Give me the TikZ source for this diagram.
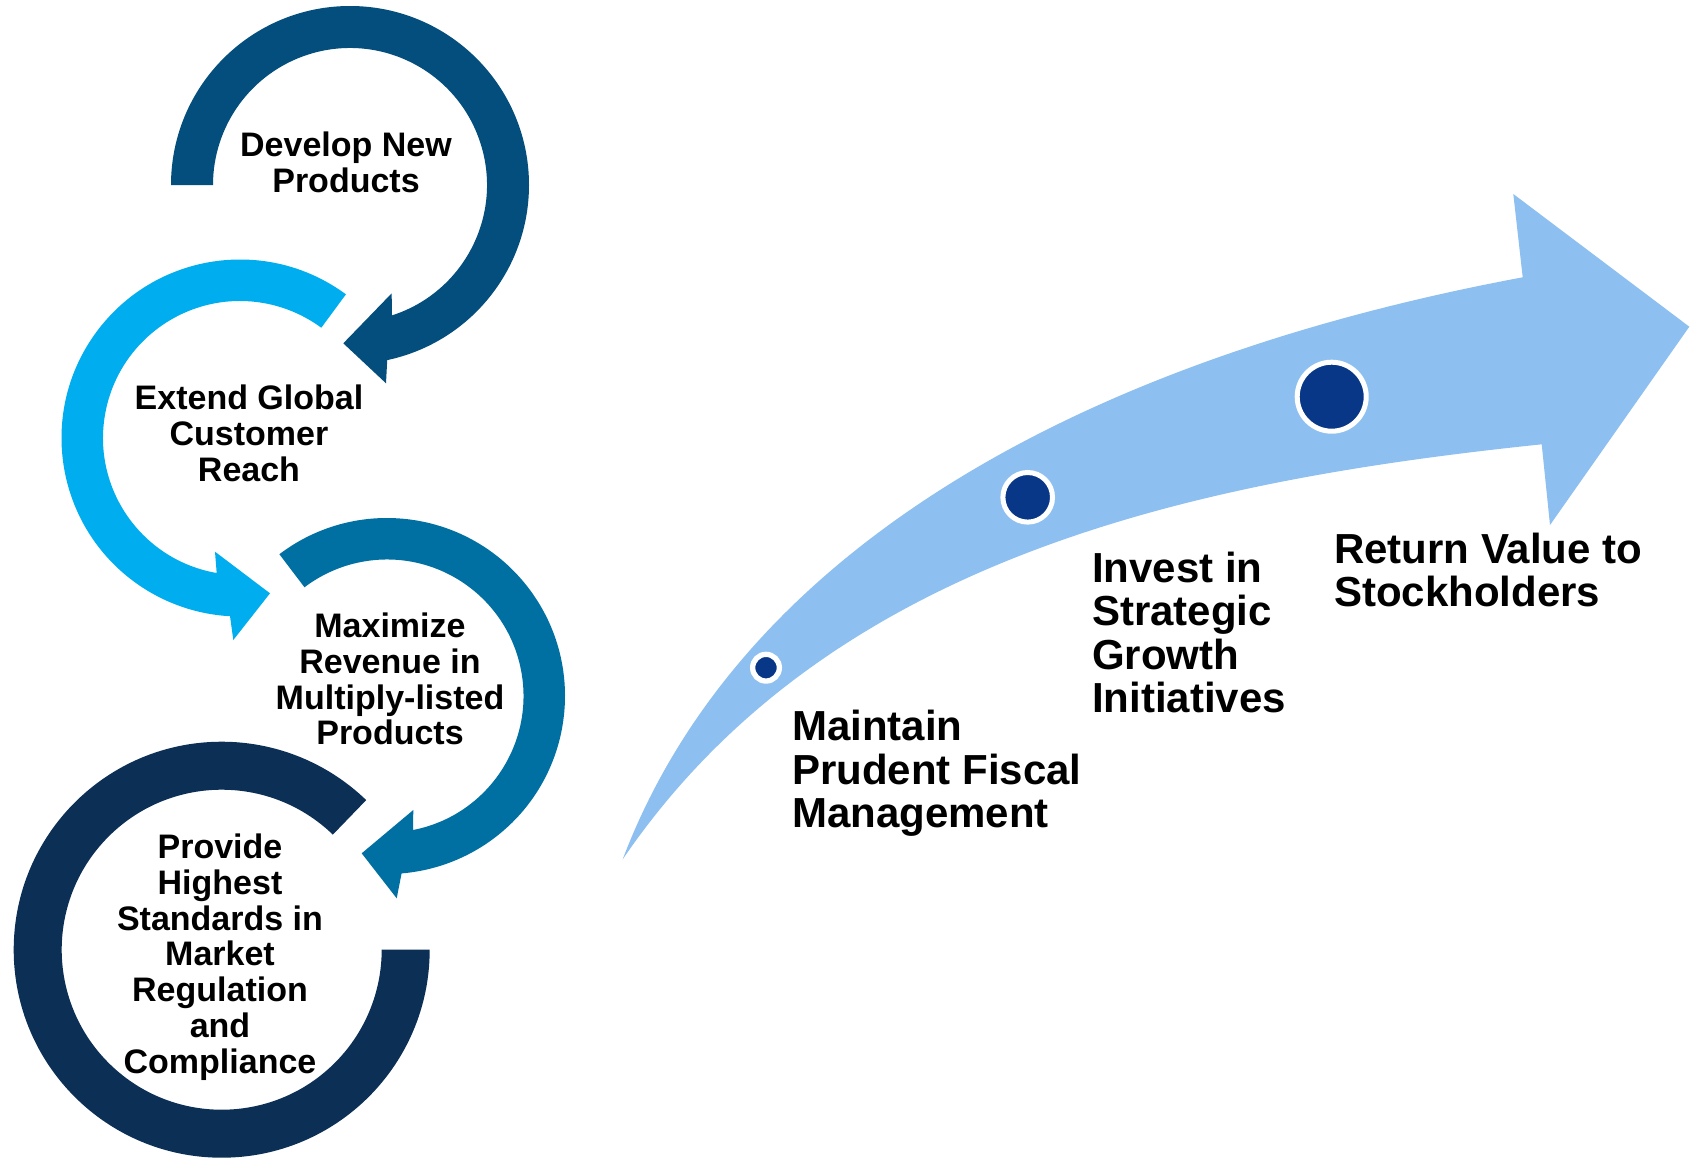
\documentclass[tikz,border=0pt]{standalone}
\usepackage{fontspec}
\setmainfont{Liberation Sans}
\definecolor{cone}{RGB}{3,78,124}
\definecolor{ctwo}{RGB}{0,174,239}
\definecolor{cthree}{RGB}{0,112,163}
\definecolor{cfour}{RGB}{12,47,86}
\definecolor{arrowc}{RGB}{141,192,240}
\definecolor{dotc}{RGB}{8,55,135}
\tikzset{
  circtext/.style={font=\bfseries\fontsize{34}{35.7}\selectfont, align=center, anchor=north, inner sep=0pt, text=black},
  steptext/.style={font=\bfseries\fontsize{42}{43.5}\selectfont, align=left, anchor=north west, inner sep=0pt, text=black},
  dotnode/.style={circle, fill=dotc, draw=white, inner sep=0pt}
}
\begin{document}
\begin{tikzpicture}[x=1pt,y=-1pt]
\fill[white] (0,0) rectangle (1695,1157);
\useasboundingbox (0,0) rectangle (1695,1157);

% circular arrow 1
\begin{scope}[shift={(350,185)}]
\fill[cone] (-180:179) arc[start angle=-180, end angle=78, radius=179]
  -- (36,198.3) -- (-6.7,158.3) -- (41.7,108.3)
  -- (72.2:137) arc[start angle=72.2, end angle=-180, radius=137] -- cycle;
\end{scope}
% circular arrow 2
\begin{scope}[shift={(240,438)}]
\fill[ctwo] (-53.6:178.5) arc[start angle=-53.6, end angle=-266.8, radius=178.5]
  -- (-6.7,202) -- (30,155.3) -- (-25,113.7)
  -- (-260.2:137) arc[start angle=-260.2, end angle=-53.6, radius=137] -- cycle;
\end{scope}
% circular arrow 3
\begin{scope}[shift={(387,696)}]
\fill[cthree] (-127.2:178) arc[start angle=-127.2, end angle=85.3, radius=178]
  -- (9.7,202.3) -- (-25.3,157.3) -- (26.3,114)
  -- (79:136.5) arc[start angle=79, end angle=-127.2, radius=136.5] -- cycle;
\end{scope}
% ring 4
\begin{scope}[shift={(221.7,949.7)}]
\fill[cfour] (0:208) arc[start angle=0, end angle=314, radius=208]
  -- (314:160) arc[start angle=314, end angle=0, radius=160] -- cycle;
\end{scope}

\node[circtext] (develop) at (346,132) {Develop New\\Products};
\node[circtext] (extend) at (249,385) {Extend Global\\Customer\\Reach};
\node[circtext] (maximize) at (390,613) {Maximize\\Revenue in\\Multiply-listed\\Products};
\node[circtext] (provide) at (220,834) {Provide\\Highest\\Standards in\\Market\\Regulation\\and\\Compliance};

% big arrow
\coordinate (tail) at (622.7,859.3);
\coordinate (upjoin) at (1522.7,277.3);
\coordinate (upbarb) at (1513.3,194);
\coordinate (tip) at (1689.3,326.7);
\coordinate (lowbarb) at (1550,525);
\coordinate (lowjoin) at (1541.7,444.3);
\fill[arrowc] (tail) .. controls (740,550) and (1080,360) .. (upjoin)
  -- (upbarb) -- (tip) -- (lowbarb) -- (lowjoin)
  .. controls (1200,480) and (830,555) .. (tail) -- cycle;

\node[dotnode, minimum size=26.7pt, line width=5.3pt] (dot1) at (766,667.7) {};
\node[dotnode, minimum size=49.6pt, line width=5pt] (dot2) at (1027.7,497.3) {};
\node[dotnode, minimum size=69pt, line width=5pt] (dot3) at (1331.7,396.7) {};

\node[steptext] (maintain) at (792,710) {Maintain\\Prudent Fiscal\\Management};
\node[steptext] (invest) at (1092,551.7) {Invest in\\Strategic\\Growth\\Initiatives};
\node[steptext] (return) at (1334,532.7) {Return Value to\\Stockholders};
\end{tikzpicture}
\end{document}
